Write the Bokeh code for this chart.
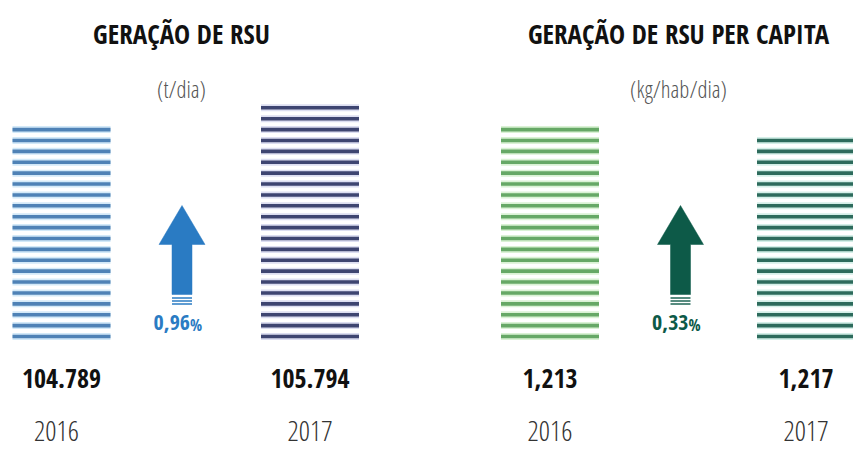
from bokeh.plotting import figure
from bokeh.models import Range1d, ColumnDataSource
from bokeh.core.properties import value
from bokeh.embed import file_html
from bokeh.resources import INLINE

# ---- data ----
years = ["2016", "2017"]
rsu_total = [104789, 105794]           # t/dia
rsu_total_labels = ["104.789", "105.794"]
rsu_pc = [1.213, 1.217]                # kg/hab/dia
rsu_pc_labels = ["1,213", "1,217"]
growth_numbers = ["0,96", "0,33"]
titles = ["GERAÇÃO DE RSU", "GERAÇÃO DE RSU PER CAPITA"]
units = ["(t/dia)", "(kg/hab/dia)"]

# ---- layout (pixel coordinates of the picture) ----
W, H = 853, 450
bar_left = [[12, 260.5], [500.5, 756.5]]
bar_w = 98
stripe_counts = [[20, 22], [20, 19]]
stripe_bottom = 336.0
stripe_gap = 10.89
panel_center = [181, 678]
arrow_cx = [181.5, 680]
year_dx = [[-5, 0], [0, 0]]
dark = [["#4f82b6", "#3e4571"], ["#66a866", "#2d6b5c"]]
halo = [["#d3e9f8", "#dcdef1"], ["#daf2d5", "#d4efe8"]]
arrow_col = ["#2a7bc3", "#0d5a48"]

BOLD = "Open Sans Condensed"
LIGHT = "Open Sans Condensed Light"

p = figure(width=W, height=H, output_backend="svg", toolbar_location=None,
           x_range=Range1d(0, W), y_range=Range1d(H, 0), min_border=0)
p.axis.visible = False
p.grid.visible = False
p.outline_line_color = None
p.background_fill_color = "white"
p.border_fill_color = "white"

for k in range(2):
    # striped bars
    for j in range(2):
        n = stripe_counts[k][j]
        ys = [stripe_bottom - i * stripe_gap for i in range(n)]
        x0 = [bar_left[k][j]] * n
        x1 = [bar_left[k][j] + bar_w] * n
        src = ColumnDataSource(dict(x0=x0, x1=x1, y=ys))
        p.segment(x0="x0", y0="y", x1="x1", y1="y", source=src,
                  line_color=halo[k][j], line_width=7)
        p.segment(x0="x0", y0="y", x1="x1", y1="y", source=src,
                  line_color=dark[k][j], line_width=3.6)

    # arrow
    cx = arrow_cx[k]
    xs = [cx, cx + 23, cx + 10, cx + 10, cx - 10, cx - 10, cx - 23]
    ys = [205, 244, 244, 294, 294, 244, 244]
    p.patch(xs, ys, fill_color=arrow_col[k], line_color=arrow_col[k], line_width=0.5)
    for yy in [297.5, 300.5, 303.5]:
        p.segment(x0=[cx - 10], y0=[yy], x1=[cx + 10], y1=[yy],
                  line_color=arrow_col[k], line_width=1.4)
    p.text(x=[cx + 8], y=[322], text=[growth_numbers[k]], text_align="right",
           text_baseline="middle", text_font=value(BOLD), text_font_style="bold",
           text_font_size="22px", text_color=arrow_col[k])
    p.text(x=[cx + 8], y=[324], text=["%"], text_align="left",
           text_baseline="middle", text_font=value(BOLD), text_font_style="bold",
           text_font_size="16px", text_color=arrow_col[k])

    # titles
    p.text(x=[panel_center[k]], y=[33], text=[titles[k]], text_align="center",
           text_baseline="middle", text_font=value(BOLD), text_font_style="bold",
           text_font_size="27px", text_color="#111111")
    p.text(x=[panel_center[k]], y=[88], text=[units[k]], text_align="center",
           text_baseline="middle", text_font=value(LIGHT),
           text_font_size="23px", text_color="#555555")

    # values and years
    labels = rsu_total_labels if k == 0 else rsu_pc_labels
    cxs = [bar_left[k][j] + bar_w / 2 for j in range(2)]
    p.text(x=cxs, y=[378, 378], text=labels, text_align="center",
           text_baseline="middle", text_font=value(BOLD), text_font_style="bold",
           text_font_size="26px", text_color="#111111")
    p.text(x=[cxs[j] + year_dx[k][j] for j in range(2)], y=[430, 430], text=years,
           text_align="center", text_baseline="middle", text_font=value(LIGHT),
           text_font_size="28px", text_color="#333333")

open("out.html", "w").write(file_html(p, INLINE))
